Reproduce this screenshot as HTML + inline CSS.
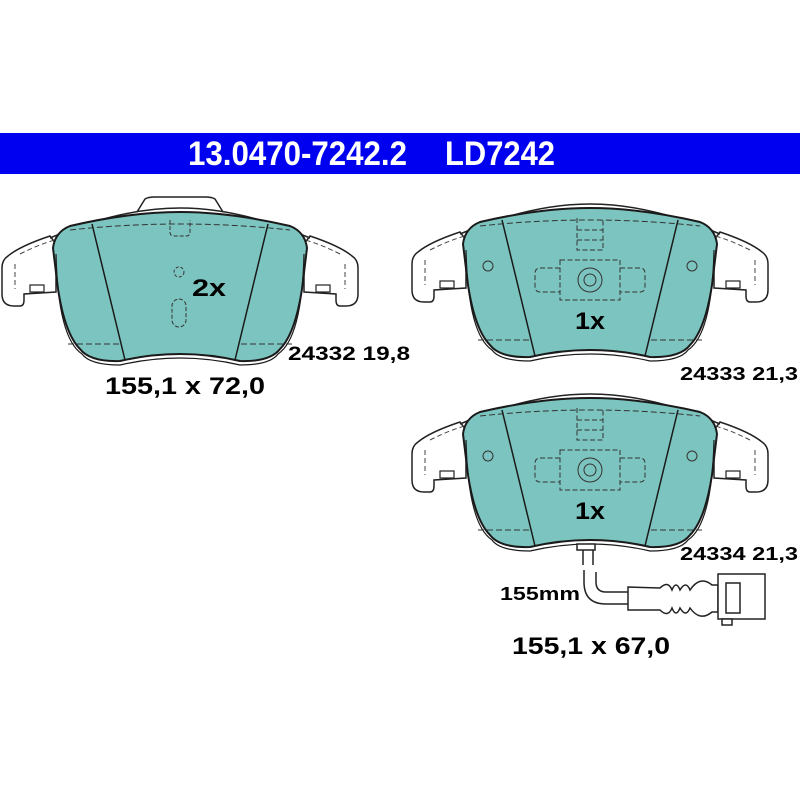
<!DOCTYPE html>
<html><head><meta charset="utf-8"><style>
html,body{margin:0;padding:0;background:#fff;}
svg{display:block}
text{font-family:"Liberation Sans",Arial,sans-serif;font-weight:bold;fill:#000}
</style></head><body>
<svg width="800" height="800" viewBox="0 0 800 800" xmlns="http://www.w3.org/2000/svg">
<defs>
<g id="plate">
  <path d="M-130,22 Q-160,32 -172,42 Q-178,46 -178,54 L-178,80 Q-178,92 -166,92 L-160,92 Q-156,92 -156,86 L-156,80 L-124,78 L-124,30 Z" fill="#fff" stroke="#222" stroke-width="1.5"/>
  <path d="M130,22 Q160,32 172,42 Q178,46 178,54 L178,80 Q178,92 166,92 L160,92 Q156,92 156,86 L156,80 L124,78 L124,30 Z" fill="#fff" stroke="#222" stroke-width="1.5"/>
  <path d="M-130,24 Q-60,-6 0,-6 Q60,-6 130,24" fill="none" stroke="#222" stroke-width="1.5"/>
  <rect x="-150" y="71" width="14" height="7" fill="#fff" stroke="#222" stroke-width="1.2"/>
  <rect x="136" y="71" width="14" height="7" fill="#fff" stroke="#222" stroke-width="1.2"/>
  <path d="M-165,50 L-165,75 M165,50 L165,75 M-160,40 Q-140,30 -125,26 M160,40 Q140,30 125,26" fill="none" stroke="#444" stroke-width="1" stroke-dasharray="5,3"/>
</g>
<g id="fric">
  <path d="M-127,34 Q-125,18 -110,12 Q-50,-2 0,-2 Q50,-2 110,12 Q125,18 127,34 L122,75 Q115,120 100,135 Q90,148 60,147 Q30,140 0,140 Q-30,140 -60,147 Q-90,148 -100,135 Q-115,120 -122,75 Z" fill="#7cc4bf" stroke="#1a1a1a" stroke-width="2"/>
  <path d="M-124,40 Q-122,124 -98,140 Q-90,151 -60,151 Q-30,144 0,144 Q30,144 60,151 Q90,151 98,140 Q122,124 124,40" fill="none" stroke="#1a1a1a" stroke-width="1.2"/>
  <path d="M-88,10 L-55,146 M88,10 L55,146" stroke="#1a1a1a" stroke-width="1.5"/>
  <path d="M-112,130 L-60,130 M112,130 L60,130 M-110,16 Q0,4 110,16" fill="none" stroke="#333" stroke-width="1" stroke-dasharray="6,3"/>
</g>
</defs>
<rect x="0" y="133" width="800" height="41" fill="#0000f0"/>
<text x="188" y="165" font-size="34" style="fill:#fff" textLength="219" lengthAdjust="spacingAndGlyphs">13.0470-7242.2</text>
<text x="445" y="165" font-size="34" style="fill:#fff" textLength="110" lengthAdjust="spacingAndGlyphs">LD7242</text>

<!-- left pad -->
<path d="M137,212 L145,199 Q148,197 155,197 L205,197 Q212,197 215,199 L223,212" fill="#fff" stroke="#222" stroke-width="1.5"/>
<g transform="translate(180,214)"><use href="#plate"/><use href="#fric"/>
  <path d="M-10,6 L-10,18 Q-10,22 -6,22 L6,22 Q10,22 10,18 L10,6" fill="none" stroke="#333" stroke-dasharray="4,2"/>
  <circle cx="-1" cy="58" r="5" fill="none" stroke="#333" stroke-dasharray="3,2"/>
  <rect x="-8" y="85" width="14" height="28" rx="7" fill="none" stroke="#333" stroke-dasharray="4,2"/>
</g>
<text x="192" y="296" font-size="24" textLength="34" lengthAdjust="spacingAndGlyphs">2x</text>
<text x="288" y="360" font-size="19" textLength="122" lengthAdjust="spacingAndGlyphs">24332 19,8</text>
<text x="105" y="394" font-size="24" textLength="160" lengthAdjust="spacingAndGlyphs">155,1 x 72,0</text>

<!-- right pads -->
<g transform="translate(590,210)"><use href="#plate"/><use href="#fric"/>
  <circle cx="-102" cy="56" r="5" fill="none" stroke="#333"/>
  <circle cx="102" cy="56" r="5" fill="none" stroke="#333"/>
  <g fill="none" stroke="#333" stroke-width="1" stroke-dasharray="5,2.5">
    <path d="M-13,8 L-13,40 L13,40 L13,8 M-13,20 L13,20 M-13,30 L13,30"/>
    <path d="M-30,50 L-30,90 L30,90 L30,50 Z"/>
    <path d="M-30,58 L-50,58 Q-55,58 -55,64 L-55,76 Q-55,82 -50,82 L-30,82 M30,58 L50,58 Q55,58 55,64 L55,76 Q55,82 50,82 L30,82"/>
  </g>
  <circle cx="0" cy="70" r="12" fill="none" stroke="#333"/>
  <circle cx="0" cy="70" r="6" fill="none" stroke="#333"/>
</g>
<text x="575" y="329" font-size="24" textLength="30" lengthAdjust="spacingAndGlyphs">1x</text>
<text x="680" y="380" font-size="18" textLength="118" lengthAdjust="spacingAndGlyphs">24333 21,3</text>

<g transform="translate(590,400)"><use href="#plate"/><use href="#fric"/>
  <circle cx="-102" cy="56" r="5" fill="none" stroke="#333"/>
  <circle cx="102" cy="56" r="5" fill="none" stroke="#333"/>
  <g fill="none" stroke="#333" stroke-width="1" stroke-dasharray="5,2.5">
    <path d="M-13,8 L-13,40 L13,40 L13,8 M-13,20 L13,20 M-13,30 L13,30"/>
    <path d="M-30,50 L-30,90 L30,90 L30,50 Z"/>
    <path d="M-30,58 L-50,58 Q-55,58 -55,64 L-55,76 Q-55,82 -50,82 L-30,82 M30,58 L50,58 Q55,58 55,64 L55,76 Q55,82 50,82 L30,82"/>
  </g>
  <circle cx="0" cy="70" r="12" fill="none" stroke="#333"/>
  <circle cx="0" cy="70" r="6" fill="none" stroke="#333"/>
</g>
<text x="575" y="519" font-size="24" textLength="30" lengthAdjust="spacingAndGlyphs">1x</text>
<text x="680" y="560" font-size="18" textLength="118" lengthAdjust="spacingAndGlyphs">24334 21,3</text>

<!-- wire -->
<g fill="#fff" stroke="#222" stroke-width="1.5">
  <rect x="577" y="544" width="18" height="6"/>
  <path d="M583,550 L583,565 M593,550 L593,565"/>
  <path d="M584,570 L584,582 Q584,604 606,604 L630,604 L630,592 L606,592 Q596,592 596,582 L596,572"/>
  <path d="M628,587 L660,588 Q668,580 672,590 Q676,580 680,590 Q686,580 690,590 Q700,575 712,585 L718,585 L718,612 L712,612 Q700,622 690,608 Q686,618 680,608 Q676,618 672,608 Q668,618 660,610 L628,610 Z"/>
  <rect x="718" y="574" width="47" height="45"/>
  <rect x="726" y="583" width="14" height="30"/>
  <rect x="722" y="619" width="10" height="6"/>
</g>
<text x="500" y="600" font-size="18" textLength="80" lengthAdjust="spacingAndGlyphs">155mm</text>
<text x="512" y="654" font-size="24" textLength="158" lengthAdjust="spacingAndGlyphs">155,1 x 67,0</text>
</svg>
</body></html>
